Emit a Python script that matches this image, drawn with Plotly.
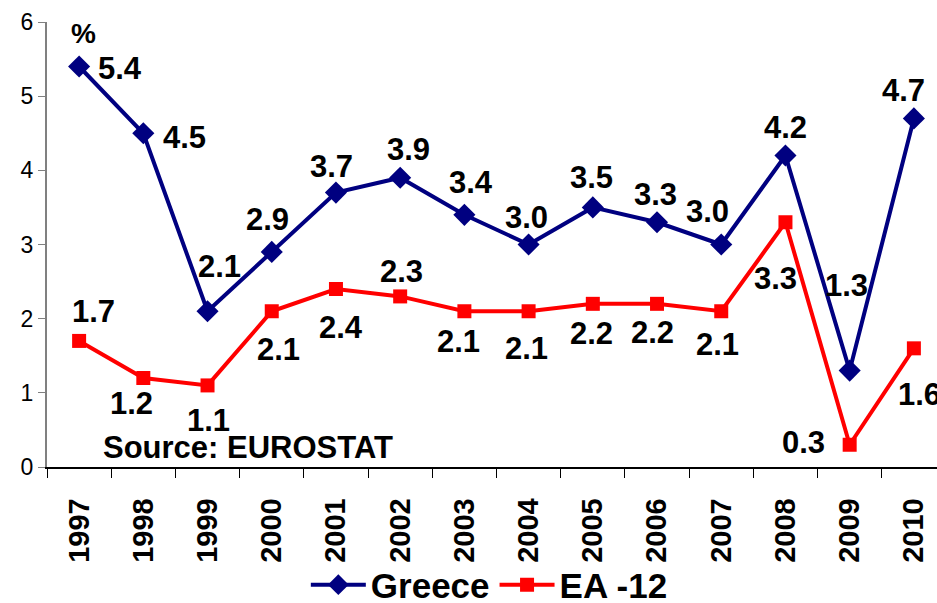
import plotly.graph_objects as go

years = ["1997", "1998", "1999", "2000", "2001", "2002", "2003",
         "2004", "2005", "2006", "2007", "2008", "2009", "2010"]
greece = [5.4, 4.5, 2.1, 2.9, 3.7, 3.9, 3.4, 3.0, 3.5, 3.3, 3.0, 4.2, 1.3, 4.7]
ea12 = [1.7, 1.2, 1.1, 2.1, 2.4, 2.3, 2.1, 2.1, 2.2, 2.2, 2.1, 3.3, 0.3, 1.6]

# label offsets in pixels (dx right, dy down), like the hand-placed excel labels
greece_off = [(41, 2), (41, 4), (12, -45), (-4, -32), (-4, -26), (8, -28), (7, -32),
              (-2, -27), (-1, -30), (-2, -28), (-14, -33), (0, -28), (-3, -85), (-10, -28)]
ea_off = [(14, -29), (-12, 25), (1, 35), (7, 38), (5, 38), (1, -25), (-6, 30),
          (-2, 37), (-1, 30), (-5, 29), (-4, 33), (-10, 56), (-46, -2), (6, 46)]

FONT = "Liberation Sans, Arial, sans-serif"

fig = go.Figure()
fig.add_trace(go.Scatter(
    x=years, y=greece, name="Greece", mode="lines+markers",
    line=dict(color="#000080", width=4),
    marker=dict(symbol="diamond", size=17, color="#000080"),
    cliponaxis=False,
))
fig.add_trace(go.Scatter(
    x=years, y=ea12, name="EA -12", mode="lines+markers",
    line=dict(color="#ff0000", width=4),
    marker=dict(symbol="square", size=14, color="#ff0000"),
    cliponaxis=False,
))

annots = []
for vals, offs in ((greece, greece_off), (ea12, ea_off)):
    # category axis: numeric-looking year strings are read as indices, so use the index
    for i, (v, (dx, dy)) in enumerate(zip(vals, offs)):
        annots.append(dict(
            x=i, y=v, text=f"{v:.1f}", showarrow=False,
            xshift=dx, yshift=-dy,
            font=dict(size=31, color="black", family=FONT, weight="bold"),
        ))

annots.append(dict(x=0.0, y=0.975, xref="paper", yref="paper", xshift=36,
                   text="%", showarrow=False, xanchor="center", yanchor="middle",
                   font=dict(size=28, color="black", family=FONT, weight="bold")))
annots.append(dict(x=0.061, y=0.043, xref="paper", yref="paper",
                   xanchor="left", yanchor="middle",
                   text="Source: EUROSTAT", showarrow=False,
                   font=dict(size=31, color="black", family=FONT, weight="bold")))

fig.update_layout(
    width=937, height=603,
    margin=dict(l=47, r=0, t=22, b=136, autoexpand=False),
    paper_bgcolor="white", plot_bgcolor="white",
    font=dict(family=FONT, color="black"),
    showlegend=True,
    legend=dict(orientation="h", x=0.497, xanchor="center", y=-0.265, yanchor="middle",
                font=dict(size=35, family=FONT, weight="bold"),
                itemwidth=55, tracegroupgap=0, bgcolor="rgba(0,0,0,0)"),
    annotations=annots,
    xaxis=dict(
        type="category", range=[-0.5, 13.36], automargin=False,
        showline=True, linecolor="black", linewidth=1.5,
        ticks="outside", tickson="boundaries", ticklen=9, tickcolor="black",
        tickangle=-90, showgrid=False, zeroline=False,
        tickfont=dict(size=29, family=FONT, weight="bold", color="black"),
        ticklabelstandoff=18,
    ),
    yaxis=dict(
        range=[0, 6], tickvals=[0, 1, 2, 3, 4, 5, 6], automargin=False,
        showline=True, linecolor="#808080", linewidth=2,
        ticks="outside", ticklen=7, tickcolor="#808080",
        showgrid=False, zeroline=False,
        tickfont=dict(size=23, family=FONT, color="black"),
    ),
)

# drop the page's default body margin so the 937x603 figure fills the window
fig.write_html("out.html", config={"displayModeBar": False},
               post_script="document.body.style.margin='0';document.body.style.overflow='hidden';")
